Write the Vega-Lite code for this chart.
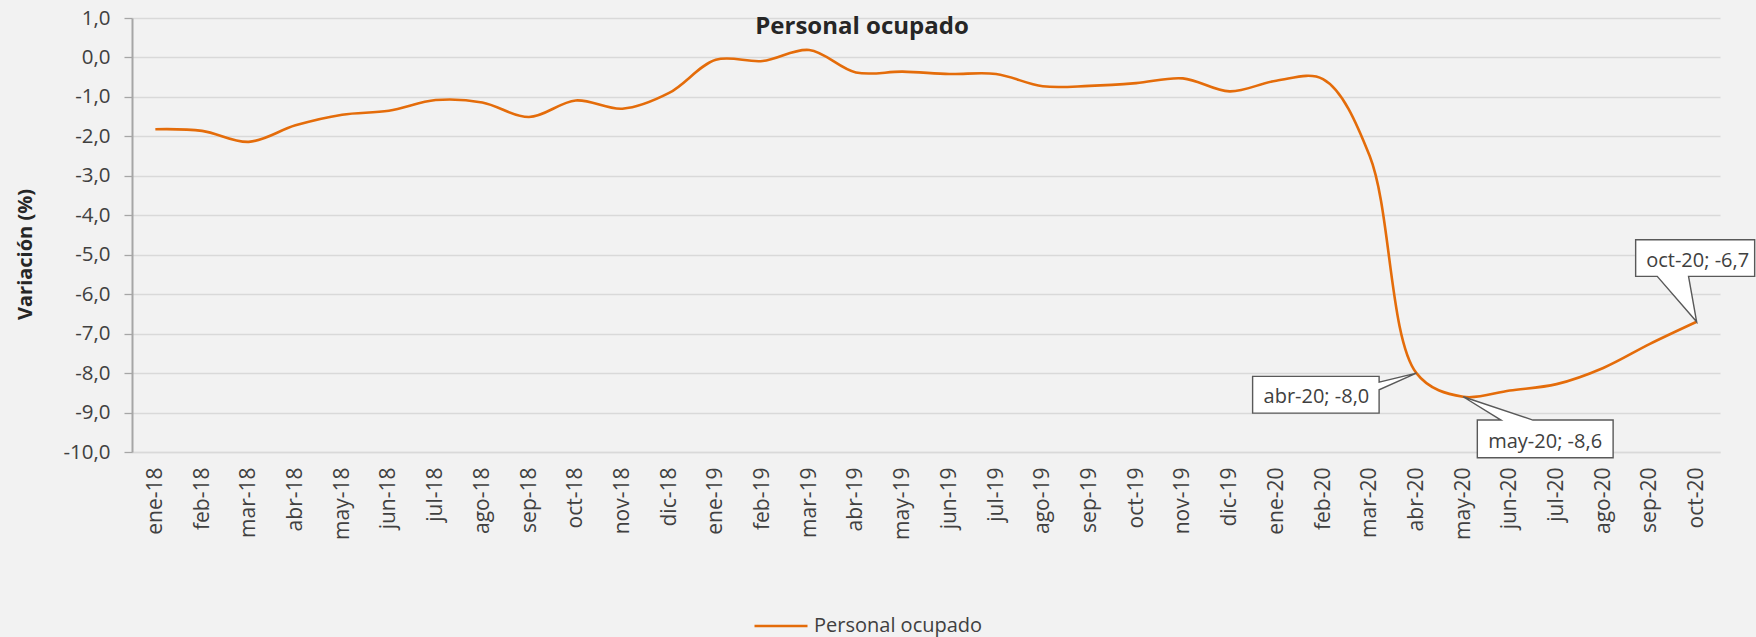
{
  "$schema": "https://vega.github.io/schema/vega-lite/v6.json",
  "width": 1588,
  "height": 434,
  "autosize": {"type": "none"},
  "padding": {"left": 132, "top": 18, "right": 36, "bottom": 185},
  "background": "#f2f2f2",
  "config": {
    "font": "Open Sans",
    "view": {"stroke": null},
    "locale": {"number": {"decimal": ",", "thousands": ".", "grouping": [3], "currency": ["", " €"], "minus": "-"}}
  },
  "title": {
    "text": "Personal ocupado",
    "fontSize": 24,
    "fontWeight": "bold",
    "color": "#262626",
    "anchor": "middle",
    "dx": -64,
    "offset": -31
  },
  "data": {
    "values": [
      {"mes": "ene-18", "v": -1.82},
      {"mes": "feb-18", "v": -1.86},
      {"mes": "mar-18", "v": -2.14},
      {"mes": "abr-18", "v": -1.72},
      {"mes": "may-18", "v": -1.45},
      {"mes": "jun-18", "v": -1.35},
      {"mes": "jul-18", "v": -1.08},
      {"mes": "ago-18", "v": -1.14},
      {"mes": "sep-18", "v": -1.51},
      {"mes": "oct-18", "v": -1.09},
      {"mes": "nov-18", "v": -1.30},
      {"mes": "dic-18", "v": -0.90},
      {"mes": "ene-19", "v": -0.06},
      {"mes": "feb-19", "v": -0.09},
      {"mes": "mar-19", "v": 0.19},
      {"mes": "abr-19", "v": -0.38},
      {"mes": "may-19", "v": -0.36},
      {"mes": "jun-19", "v": -0.42},
      {"mes": "jul-19", "v": -0.42},
      {"mes": "ago-19", "v": -0.73},
      {"mes": "sep-19", "v": -0.72},
      {"mes": "oct-19", "v": -0.65},
      {"mes": "nov-19", "v": -0.53},
      {"mes": "dic-19", "v": -0.86},
      {"mes": "ene-20", "v": -0.59},
      {"mes": "feb-20", "v": -0.55},
      {"mes": "mar-20", "v": -2.5},
      {"mes": "abr-20", "v": -8.0},
      {"mes": "may-20", "v": -8.6},
      {"mes": "jun-20", "v": -8.44},
      {"mes": "jul-20", "v": -8.28},
      {"mes": "ago-20", "v": -7.87},
      {"mes": "sep-20", "v": -7.26},
      {"mes": "oct-20", "v": -6.7}
    ]
  },
  "encoding": {
    "x": {
      "field": "mes",
      "type": "ordinal",
      "sort": null,
      "title": null,
      "axis": {
        "labelAngle": -90,
        "labelFontSize": 21,
        "labelColor": "#404040",
        "labelPadding": 15,
        "ticks": false,
        "tickSize": 0,
        "domainColor": "#d9d9d9",
        "domainWidth": 1.3,
        "grid": false
      }
    },
    "y": {
      "field": "v",
      "type": "quantitative",
      "scale": {"domain": [-10, 1], "nice": false, "zero": false},
      "title": "Variación (%)",
      "axis": {
        "values": [-10, -9, -8, -7, -6, -5, -4, -3, -2, -1, 0, 1],
        "format": ".1f",
        "labelFontSize": 20.5,
        "labelColor": "#404040",
        "labelPadding": 14,
        "tickSize": 8,
        "tickColor": "#a6a6a6",
        "tickWidth": 1.3,
        "domainColor": "#a6a6a6",
        "domainWidth": 2,
        "gridColor": "#d9d9d9",
        "gridWidth": 1.3,
        "titleFontSize": 20,
        "titleFontWeight": "bold",
        "titleColor": "#262626",
        "titlePadding": 27,
        "titleY": 236
      }
    }
  },
  "layer": [
    {
      "mark": {"type": "line", "interpolate": "catmull-rom", "strokeWidth": 2.6},
      "encoding": {
        "color": {
          "datum": "Personal ocupado",
          "type": "nominal",
          "scale": {"range": ["#E46C0A"]},
          "legend": {
            "title": null,
            "orient": "none",
            "legendX": 621,
            "legendY": 580,
            "padding": 0,
            "symbolType": "stroke",
            "symbolSize": 2809,
            "symbolStrokeWidth": 2.6,
            "labelFontSize": 20,
            "labelColor": "#404040",
            "labelOffset": 5,
            "labelLimit": 0
          }
        }
      }
    },
    {
      "transform": [{"filter": "datum.mes === 'abr-20'"}],
      "mark": {"type": "point", "shape": "M -163.8 3.3 H -37.3 V 9 L 0 0 L -37.3 16.7 V 40 H -163.8 Z", "size": 4, "filled": true, "fill": "#ffffff", "stroke": "#595959", "strokeWidth": 1.4, "opacity": 1}
    },
    {
      "transform": [{"filter": "datum.mes === 'may-20'"}],
      "mark": {"type": "point", "shape": "M 14.2 23.3 H 37.9 L 0 0 L 69.8 23.3 H 150 V 61 H 14.2 Z", "size": 4, "filled": true, "fill": "#ffffff", "stroke": "#595959", "strokeWidth": 1.4, "opacity": 1}
    },
    {
      "transform": [{"filter": "datum.mes === 'oct-20'"}],
      "mark": {"type": "point", "shape": "M -61 -82 H 58 V -45.4 H -8.1 L 0 0 L -39.4 -45.4 H -61 Z", "size": 4, "filled": true, "fill": "#ffffff", "stroke": "#595959", "strokeWidth": 1.4, "opacity": 1}
    },
    {
      "transform": [
        {"filter": "datum.mes === 'abr-20'"},
        {"calculate": "datum.mes + '; ' + replace(replace(format(datum.v, '.1f'), '.', ','), '−', '-')", "as": "etq"}
      ],
      "mark": {"type": "text", "dx": -100, "dy": 30, "baseline": "alphabetic", "align": "center", "fontSize": 20, "color": "#404040"},
      "encoding": {"text": {"field": "etq"}}
    },
    {
      "transform": [
        {"filter": "datum.mes === 'may-20'"},
        {"calculate": "datum.mes + '; ' + replace(replace(format(datum.v, '.1f'), '.', ','), '−', '-')", "as": "etq"}
      ],
      "mark": {"type": "text", "dx": 82, "dy": 51, "baseline": "alphabetic", "align": "center", "fontSize": 20, "color": "#404040"},
      "encoding": {"text": {"field": "etq"}}
    },
    {
      "transform": [
        {"filter": "datum.mes === 'oct-20'"},
        {"calculate": "datum.mes + '; ' + replace(replace(format(datum.v, '.1f'), '.', ','), '−', '-')", "as": "etq"}
      ],
      "mark": {"type": "text", "dx": 1, "dy": -55, "baseline": "alphabetic", "align": "center", "fontSize": 20, "color": "#404040"},
      "encoding": {"text": {"field": "etq"}}
    }
  ]
}
